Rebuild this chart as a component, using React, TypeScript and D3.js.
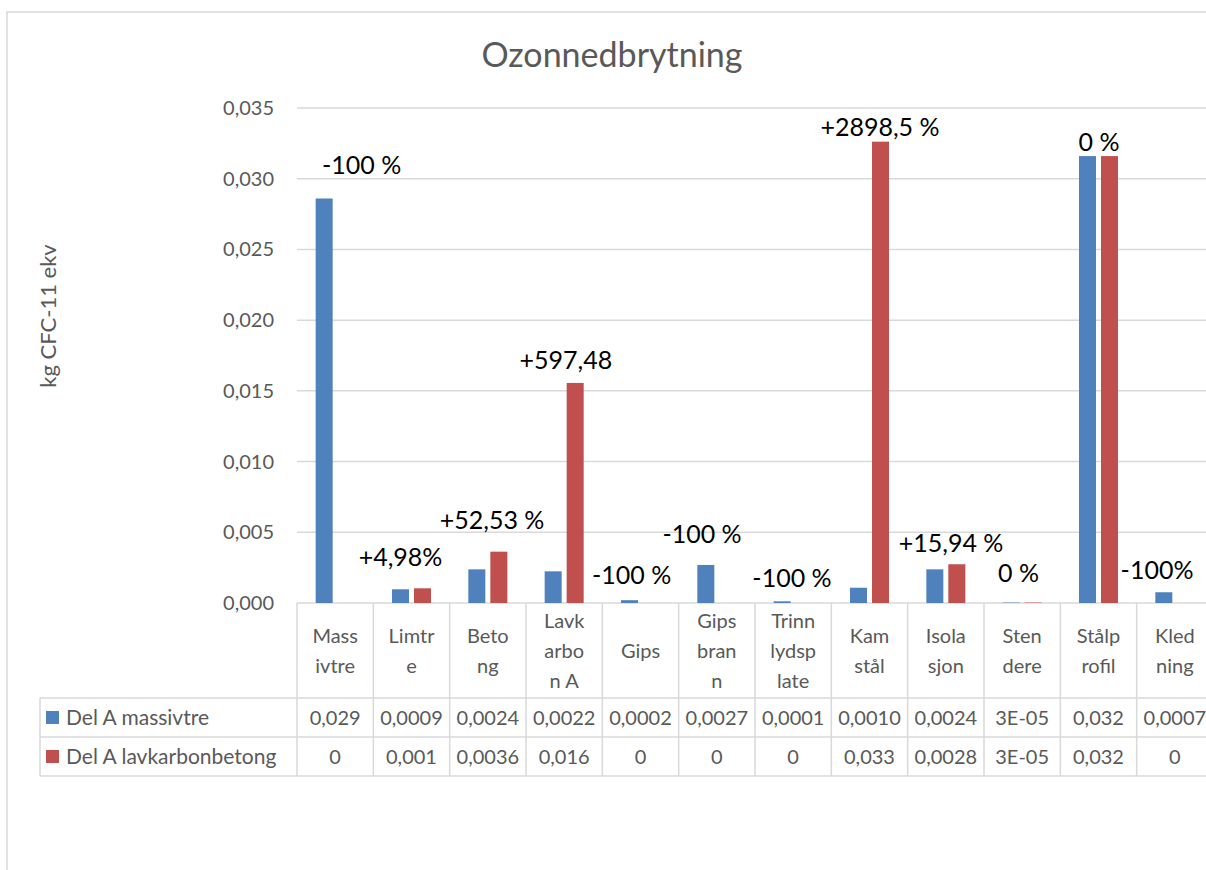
import React from "react";
import * as d3 from "d3";

const categoryLines: string[][] = [
  ["Mass", "ivtre"],
  ["Limtr", "e"],
  ["Beto", "ng"],
  ["Lavk", "arbo", "n A"],
  ["Gips"],
  ["Gips", "bran", "n"],
  ["Trinn", "lydsp", "late"],
  ["Kam", "stål"],
  ["Isola", "sjon"],
  ["Sten", "dere"],
  ["Stålp", "rofil"],
  ["Kled", "ning"],
];
const categories = categoryLines.map((l) => l.join(""));

const seriesNames = ["Del A massivtre", "Del A lavkarbonbetong"];
const seriesColors = ["#4F81BD", "#C0504D"];

const massivtre = [0.0286, 0.00097, 0.00238, 0.00224, 0.0002, 0.00269, 0.00012, 0.00108, 0.00238, 0.00003, 0.0316, 0.00076];
const lavkarbon = [0, 0.00104, 0.00363, 0.01556, 0, 0, 0, 0.03262, 0.00274, 0.00003, 0.0316, 0];

const massivtreTable = ["0,029", "0,0009", "0,0024", "0,0022", "0,0002", "0,0027", "0,0001", "0,0010", "0,0024", "3E-05", "0,032", "0,0007"];
const lavkarbonTable = ["0", "0,001", "0,0036", "0,016", "0", "0", "0", "0,033", "0,0028", "3E-05", "0,032", "0"];

const changeLabels = ["-100 %", "+4,98%", "+52,53 %", "+597,48", "-100 %", "-100 %", "-100 %", "+2898,5 %", "+15,94 %", "0 %", "0 %", "-100%"];
// label anchor (value units) and horizontal nudge (px) for each annotation
const labelAnchor = [0.03097, 0.00322, 0.00587, 0.01718, 0.00194, 0.00488, 0.00177, 0.03366, 0.00421, 0.00212, 0.03258, 0.00233];
const labelNudge = [26.5, -11, 4.2, 1.8, -8.8, -14.8, -1.2, 10.5, 5.2, -3.7, 0.5, -17.8];

const yTicks = [0, 0.005, 0.01, 0.015, 0.02, 0.025, 0.03, 0.035];

const FONT = "Lato, 'Open Sans', sans-serif";
const GRID = "#d9d9d9";
const TXT = "#595959";

export default function App() {
  const W = 1206;
  const H = 870;
  const plotLeft = 297;
  const plotRight = 1213;
  const y0 = 603;
  const yTop = 108;
  const headerBottom = 698;
  const row1Bottom = 737;
  const row2Bottom = 776;
  const tableLeft = 40;

  const x = d3.scaleBand<string>().domain(categories).range([plotLeft, plotRight]).padding(0);
  const bw = x.bandwidth();
  const x1 = d3
    .scaleBand<string>()
    .domain(seriesNames)
    .range([bw / 2 - 19.5, bw / 2 + 19.5])
    .paddingInner(5 / 22)
    .paddingOuter(0);
  const y = d3.scaleLinear().domain([0, 0.035]).range([y0, yTop]);
  const fmt = (v: number) => d3.format(".3f")(v).replace(".", ",");

  const series = [massivtre, lavkarbon];
  const tables = [massivtreTable, lavkarbonTable];
  const rowCenters = [(headerBottom + row1Bottom) / 2, (row1Bottom + row2Bottom) / 2];
  const headerCenter = (y0 + headerBottom) / 2;
  const boundaries = categories.map((c) => x(c)!).concat([plotRight]);

  return (
    <svg width={W} height={H} style={{ position: "absolute", left: 0, top: 0, background: "#fff" }} fontFamily={FONT}>
      <rect x={0} y={0} width={W} height={H} fill="#fff" />
      {/* outer chart border */}
      <path d={`M7,${H + 5} V12 H${W + 5}`} fill="none" stroke={GRID} strokeWidth={1.5} />

      {/* title */}
      <text x={612} y={67} textAnchor="middle" fontSize={34} fill={TXT}>
        Ozonnedbrytning
      </text>

      {/* y axis title */}
      <text transform={`translate(56,316) rotate(-90)`} textAnchor="middle" fontSize={22} fill={TXT}>
        kg CFC-11 ekv
      </text>

      {/* gridlines + ticks */}
      {yTicks.map((t) => (
        <g key={t}>
          <line x1={plotLeft} x2={W} y1={y(t)} y2={y(t)} stroke={GRID} strokeWidth={1.5} />
          <text x={274} y={y(t)} dy="0.35em" textAnchor="end" fontSize={20} fill={TXT}>
            {fmt(t)}
          </text>
        </g>
      ))}

      {/* bars */}
      {series.map((vals, si) =>
        vals.map((v, i) => (
          <rect
            key={`${si}-${i}`}
            x={x(categories[i])! + x1(seriesNames[si])!}
            y={y(v)}
            width={x1.bandwidth()}
            height={y0 - y(v)}
            fill={seriesColors[si]}
          />
        ))
      )}

      {/* change labels */}
      {changeLabels.map((l, i) => (
        <text
          key={i}
          x={x(categories[i])! + bw / 2 + labelNudge[i]}
          y={y(labelAnchor[i])}
          dy="0.35em"
          textAnchor="middle"
          fontSize={25}
          fill="#000"
        >
          {l}
        </text>
      ))}

      {/* data table */}
      <g stroke={GRID} strokeWidth={1.5}>
        {boundaries.map((b, i) => (
          <line key={i} x1={b} x2={b} y1={y0} y2={row2Bottom} />
        ))}
        <line x1={tableLeft} x2={tableLeft} y1={headerBottom} y2={row2Bottom} />
        {[headerBottom, row1Bottom, row2Bottom].map((ly) => (
          <line key={ly} x1={tableLeft} x2={W} y1={ly} y2={ly} />
        ))}
      </g>

      {categoryLines.map((lines, i) => (
        <text key={i} textAnchor="middle" fontSize={20} fill={TXT}>
          {lines.map((ln, j) => (
            <tspan key={j} x={x(categories[i])! + bw / 2} y={headerCenter + (j - (lines.length - 1) / 2) * 30} dy="0.35em">
              {ln}
            </tspan>
          ))}
        </text>
      ))}

      {seriesNames.map((s, si) => (
        <g key={s}>
          <rect x={46} y={rowCenters[si] - 6.5} width={13} height={13} fill={seriesColors[si]} />
          <text x={66} y={rowCenters[si]} dy="0.35em" fontSize={21} fill={TXT}>
            {s}
          </text>
          {tables[si].map((t, i) => (
            <text
              key={i}
              x={x(categories[i])! + bw / 2}
              y={rowCenters[si]}
              dy="0.35em"
              textAnchor="middle"
              fontSize={20}
              fill={TXT}
            >
              {t}
            </text>
          ))}
        </g>
      ))}
    </svg>
  );
}
